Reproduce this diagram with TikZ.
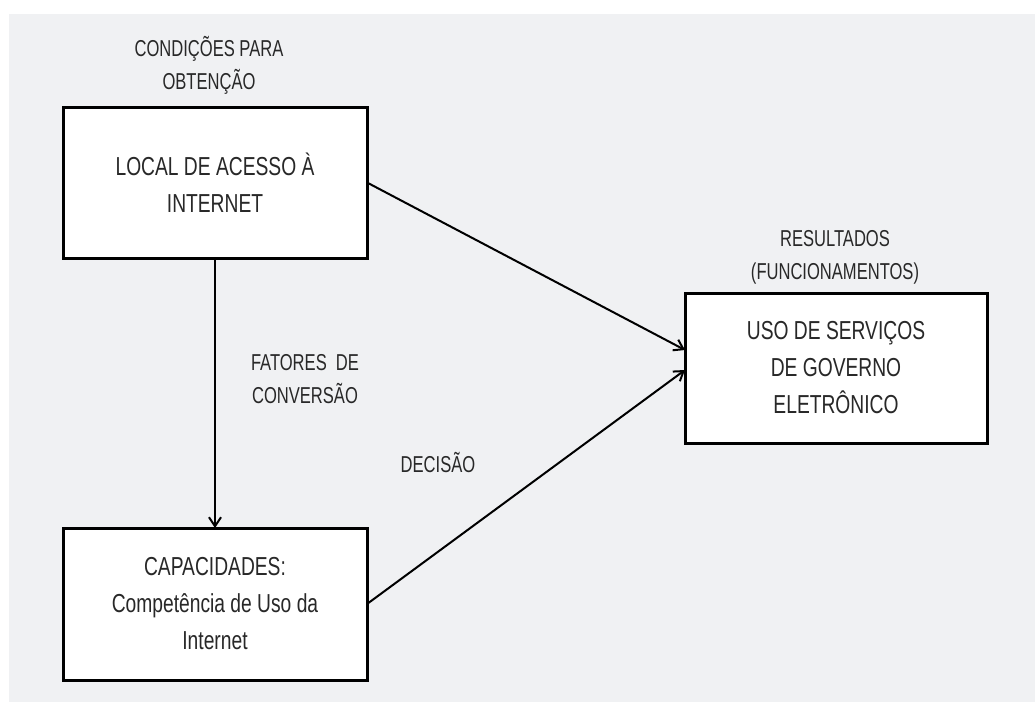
\documentclass[tikz,border=0pt]{standalone}
\usepackage{fontspec}
\setmainfont{Liberation Sans}[FakeStretch=0.74]
\newfontfamily\narrowlbl{Liberation Sans}[FakeStretch=0.72]
\usetikzlibrary{arrows.meta}
\definecolor{bgpanel}{RGB}{240,241,243}
\definecolor{txtgray}{RGB}{40,40,40}
\begin{document}
\begin{tikzpicture}[x=1pt,y=-1pt,
        box/.style={draw,line width=3pt,fill=white,align=center,inner sep=0pt,outer sep=0pt,
                text=txtgray,font=\fontsize{26}{37}\selectfont},
        lbl/.style={align=center,text=txtgray,font=\narrowlbl\fontsize{23}{33}\selectfont},
        link/.style={line width=2pt,-{Straight Barb[length=9pt,width=12pt,line width=2pt]}}]
                \useasboundingbox (0,0) rectangle (1035,702);
                \fill[bgpanel] (9,14) rectangle (1035,702);

                \node[box,minimum width=304pt,minimum height=151pt] (local) at (215,182.5) {LOCAL DE ACESSO À\\INTERNET};
                \node[box,minimum width=304pt,minimum height=152pt] (cap) at (215,604) {CAPACIDADES:\\Competência de Uso da\\Internet};
                \node[box,minimum width=302pt,minimum height=150pt] (uso) at (836,368) {USO DE SERVIÇOS\\DE GOVERNO\\ELETRÔNICO};

                \node[lbl] (cond) at (209,65) {CONDIÇÕES PARA\\OBTENÇÃO};
                \node[lbl] (res) at (835,257) {RESULTADOS\\(FUNCIONAMENTOS)};
                \node[lbl] (fat) at (305,379) {FATORES\ \ DE\\CONVERSÃO};
                \node[lbl] (dec) at (438,463) {DECISÃO};

                \draw[link] (local.south) -- (cap.north);
                \draw[link] (local.east) -- ([yshift=18pt]uso.west);
                \draw[link] (cap.east) -- ([yshift=-2pt]uso.west);
            \end{tikzpicture}
\end{document}
